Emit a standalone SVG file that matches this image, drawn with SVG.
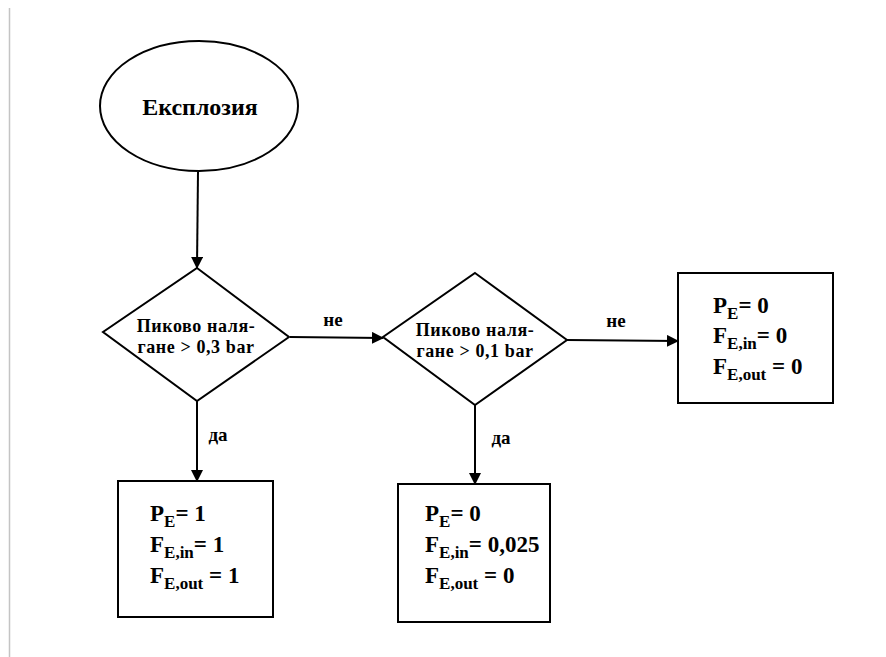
<svg xmlns="http://www.w3.org/2000/svg" width="886" height="657" viewBox="0 0 886 657">
  <defs>
    <marker id="arrow" viewBox="0 0 12 12" refX="11" refY="6" markerWidth="12" markerHeight="12" markerUnits="userSpaceOnUse" orient="auto">
      <path d="M0,0 L12,6 L0,12 Z" fill="#000"/>
    </marker>
  </defs>
  <style>
    .shape { fill: #fff; stroke: #000; stroke-width: 2; }
    .edge { fill: none; stroke: #000; stroke-width: 2; marker-end: url(#arrow); }
  </style>

  <rect width="886" height="657" fill="#fff"/>
  <line x1="9.5" y1="8" x2="9.5" y2="657" stroke="#c4c4c4" stroke-width="1.5"/>

  <g font-family="Liberation Serif, Times New Roman, serif" font-weight="bold" fill="#000">
  <!-- connectors -->
  <g id="connectors">
    <line class="edge" x1="198" y1="172" x2="197" y2="268"/>
    <line class="edge" x1="290" y1="337" x2="383" y2="338"/>
    <line class="edge" x1="567" y1="340" x2="678" y2="341"/>
    <line class="edge" x1="197" y1="401" x2="197" y2="481"/>
    <line class="edge" x1="475" y1="405" x2="475" y2="484"/>
    <text font-size="19" x="333" y="326" text-anchor="middle">не</text>
    <text font-size="19" x="616" y="327" text-anchor="middle">не</text>
    <text font-size="19" x="218" y="441" text-anchor="middle">да</text>
    <text font-size="19" x="501" y="444" text-anchor="middle">да</text>
  </g>

  <!-- start -->
  <g id="explosion">
    <ellipse class="shape" cx="199" cy="106" rx="99" ry="65"/>
    <text font-size="24" x="200" y="115" text-anchor="middle">Експлозия</text>
  </g>

  <!-- first decision -->
  <g id="decision-03" font-size="18" letter-spacing="0.6">
    <polygon class="shape" points="197,268 289,337 197,401 103,332"/>
    <text x="196" y="332" text-anchor="middle">Пиково наля-</text>
    <text x="196" y="353" text-anchor="middle">гане &gt; 0,3 bar</text>
  </g>

  <!-- second decision -->
  <g id="decision-01" font-size="18" letter-spacing="0.6">
    <polygon class="shape" points="475,273 567,340 475,405 383,337"/>
    <text x="475" y="336" text-anchor="middle">Пиково наля-</text>
    <text x="475" y="357" text-anchor="middle">гане &gt; 0,1 bar</text>
  </g>

  <!-- outcome: high pressure -->
  <g id="result-high" font-size="23">
    <rect class="shape" x="118" y="481" width="155" height="136"/>
    <text x="150" y="521">P<tspan font-size="17" dy="6">E</tspan><tspan dy="-6">= 1</tspan></text>
    <text x="150" y="552">F<tspan font-size="17" dy="6">E,in</tspan><tspan dy="-6">= 1</tspan></text>
    <text x="150" y="583">F<tspan font-size="17" dy="6">E,out</tspan><tspan dy="-6"> = 1</tspan></text>
  </g>

  <!-- outcome: medium pressure -->
  <g id="result-medium" font-size="23">
    <rect class="shape" x="398" y="484" width="152" height="138"/>
    <text x="425" y="521">P<tspan font-size="17" dy="6">E</tspan><tspan dy="-6">= 0</tspan></text>
    <text x="425" y="552">F<tspan font-size="17" dy="6">E,in</tspan><tspan dy="-6">= 0,025</tspan></text>
    <text x="425" y="583">F<tspan font-size="17" dy="6">E,out</tspan><tspan dy="-6"> = 0</tspan></text>
  </g>

  <!-- outcome: low pressure -->
  <g id="result-low" font-size="23">
    <rect class="shape" x="678" y="273" width="155" height="130"/>
    <text x="713" y="313">P<tspan font-size="17" dy="6">E</tspan><tspan dy="-6">= 0</tspan></text>
    <text x="713" y="343">F<tspan font-size="17" dy="6">E,in</tspan><tspan dy="-6">= 0</tspan></text>
    <text x="713" y="374">F<tspan font-size="17" dy="6">E,out</tspan><tspan dy="-6"> = 0</tspan></text>
  </g>
  </g>
</svg>
